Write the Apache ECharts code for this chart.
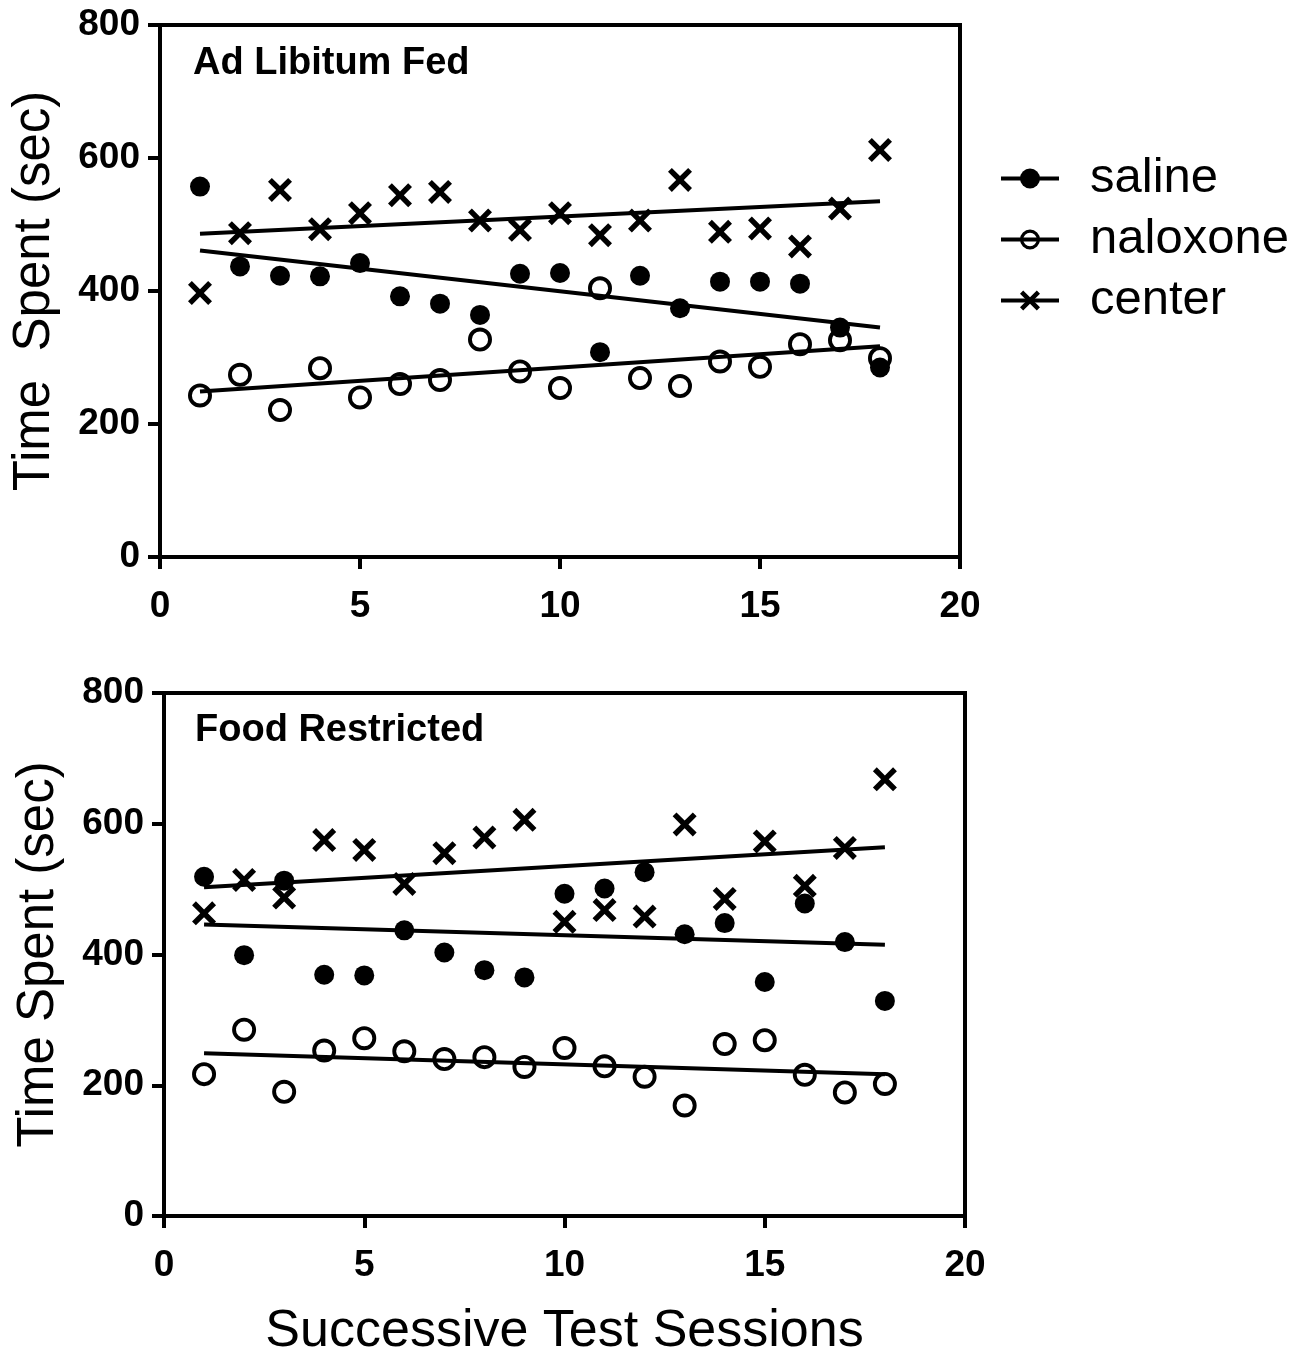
<!DOCTYPE html>
<html>
<head>
<meta charset="utf-8">
<title>Time Spent by Session</title>
<script src="https://cdn.jsdelivr.net/npm/echarts@6/dist/echarts.min.js"></script>
<style>
  html, body { margin: 0; padding: 0; background: #fff; }
  #chart { width: 1309px; height: 1359px; }
</style>
</head>
<body>
<div id="chart"></div>
<script>
// Session numbers shared by both panels
const sessions = [1, 2, 3, 4, 5, 6, 7, 8, 9, 10, 11, 12, 13, 14, 15, 16, 17, 18];

// Ad Libitum Fed (seconds)
const topSaline   = [557, 437, 423, 422, 442, 392, 381, 364, 426, 427, 308, 423, 374, 414, 414, 411, 345, 285];
const topNaloxone = [243, 274, 221, 284, 240, 260, 266, 327, 279, 254, 404, 269, 257, 294, 286, 320, 326, 299];
const topCenter   = [397, 487, 552, 493, 517, 544, 549, 506, 492, 517, 484, 506, 567, 489, 494, 467, 524, 612];

// Food Restricted (seconds)
const bottomSaline   = [519, 399, 513, 369, 368, 437, 403, 376, 365, 493, 501, 526, 431, 448, 358, 478, 419, 329];
const bottomNaloxone = [217, 285, 190, 253, 272, 252, 240, 243, 228, 257, 229, 213, 169, 263, 269, 216, 189, 202];
const bottomCenter   = [463, 514, 487, 575, 560, 508, 555, 579, 606, 450, 468, 458, 599, 485, 573, 505, 563, 668];

// Linear trend lines: values at the first and last session
const fitSpan = [1, 18];
const topSalineFit     = [461, 345];
const topNaloxoneFit   = [249, 317];
const topCenterFit     = [486, 535];
const bottomSalineFit   = [446, 415];
const bottomNaloxoneFit = [249, 217];
const bottomCenterFit   = [503, 564];

// Axis ticks
const xTicks = [0, 5, 10, 15, 20];
const yTicks = [0, 200, 400, 600, 800];

const panelTitles = ['Ad Libitum Fed', 'Food Restricted'];
const yAxisNames = ['Time  Spent (sec)', 'Time Spent (sec)'];
const xAxisName = 'Successive Test Sessions';
const groupNames = ['saline', 'naloxone', 'center'];

const FONT = '"Liberation Sans", Arial, Helvetica, sans-serif';
const INK = '#000';
// Thick diagonal cross and a hollow ring, both as filled outlines
const CROSS = 'path://M0,1.6L1.6,0L5,3.4L8.4,0L10,1.6L6.6,5L10,8.4L8.4,10L5,6.6L1.6,10L0,8.4L3.4,5Z';
const RING = 'path://M12,0A12,12 0 1,1 12,24A12,12 0 1,1 12,0Z M12,3.9A8.1,8.1 0 1,0 12,20.1A8.1,8.1 0 1,0 12,3.9Z';

const symbolFor = {
  saline:   { symbol: 'circle', symbolSize: 20 },
  naloxone: { symbol: RING, symbolSize: 24 },
  center:   { symbol: CROSS, symbolSize: 24 }
};

function pairs(ys) { return sessions.map((x, i) => [x, ys[i]]); }
function fitPairs(ends) { return fitSpan.map((x, i) => [x, ends[i]]); }

function xAxis(gridIndex, withName) {
  return {
    type: 'value', gridIndex, min: xTicks[0], max: xTicks[xTicks.length - 1], interval: 5,
    axisLine: { show: true, lineStyle: { color: INK, width: 4 } },
    axisTick: { show: true, inside: false, length: 12, lineStyle: { color: INK, width: 4 } },
    axisLabel: { color: INK, fontFamily: FONT, fontWeight: 'bold', fontSize: 37, margin: 31 },
    splitLine: { show: false },
    name: withName ? xAxisName : '',
    nameLocation: 'middle', nameGap: 90,
    nameTextStyle: { color: INK, fontFamily: FONT, fontSize: 52 }
  };
}

function yAxis(gridIndex, name) {
  return {
    type: 'value', gridIndex, min: yTicks[0], max: yTicks[yTicks.length - 1], interval: 200,
    axisLine: { show: true, lineStyle: { color: INK, width: 4 } },
    axisTick: { show: true, inside: false, length: 12, lineStyle: { color: INK, width: 4 } },
    axisLabel: { color: INK, fontFamily: FONT, fontWeight: 'bold', fontSize: 37, margin: 20 },
    splitLine: { show: false },
    name, nameLocation: 'middle', nameGap: 100, nameRotate: 90,
    nameTextStyle: { color: INK, fontFamily: FONT, fontSize: 51 }
  };
}

function scatter(name, ys, axisIndex) {
  return Object.assign({
    type: 'scatter', name, xAxisIndex: axisIndex, yAxisIndex: axisIndex,
    data: pairs(ys), z: 3, silent: true,
    itemStyle: { color: INK, opacity: 1 }
  }, symbolFor[name]);
}

function trend(ends, axisIndex) {
  return {
    type: 'line', name: 'trend', xAxisIndex: axisIndex, yAxisIndex: axisIndex,
    data: fitPairs(ends), symbol: 'none', z: 4, silent: true,
    lineStyle: { color: INK, width: 4, opacity: 1 }
  };
}

// Empty line series that give the legend its line-and-marker icons
const legendKeys = groupNames.map(name => Object.assign({
  type: 'line', name, data: [], xAxisIndex: 0, yAxisIndex: 0,
  itemStyle: { color: INK, opacity: 1 },
  lineStyle: { color: INK, width: 4 }
}, symbolFor[name]));

const option = {
  backgroundColor: '#fff',
  animation: false,
  title: [
    { text: panelTitles[0], left: 193, top: 45, padding: 0,
      textStyle: { color: INK, fontFamily: FONT, fontWeight: 'bold', fontSize: 38 } },
    { text: panelTitles[1], left: 195, top: 712, padding: 0,
      textStyle: { color: INK, fontFamily: FONT, fontWeight: 'bold', fontSize: 38 } }
  ],
  legend: {
    data: groupNames, orient: 'vertical', left: 999, top: 154, padding: 0,
    itemWidth: 58, itemHeight: 25, itemGap: 12,
    lineStyle: { color: INK, width: 4 },
    itemStyle: { color: INK },
    textStyle: { color: INK, fontFamily: FONT, fontSize: 49, padding: [0, 0, 0, 26] },
    selectedMode: false
  },
  grid: [
    { left: 160, top: 25, width: 800, height: 532, show: true, borderColor: INK, borderWidth: 4, backgroundColor: 'transparent' },
    { left: 164, top: 693, width: 801, height: 534, show: true, borderColor: INK, borderWidth: 4, backgroundColor: 'transparent' }
  ],
  xAxis: [xAxis(0, false), xAxis(1, true)],
  yAxis: [yAxis(0, yAxisNames[0]), yAxis(1, yAxisNames[1])],
  series: [
    ...legendKeys,
    scatter('saline', topSaline, 0),
    scatter('naloxone', topNaloxone, 0),
    scatter('center', topCenter, 0),
    scatter('saline', bottomSaline, 1),
    scatter('naloxone', bottomNaloxone, 1),
    scatter('center', bottomCenter, 1),
    trend(topSalineFit, 0), trend(topNaloxoneFit, 0), trend(topCenterFit, 0),
    trend(bottomSalineFit, 1), trend(bottomNaloxoneFit, 1), trend(bottomCenterFit, 1)
  ]
};

const chart = echarts.init(document.getElementById('chart'), null, { renderer: 'canvas' });
chart.setOption(option);
</script>
</body>
</html>
